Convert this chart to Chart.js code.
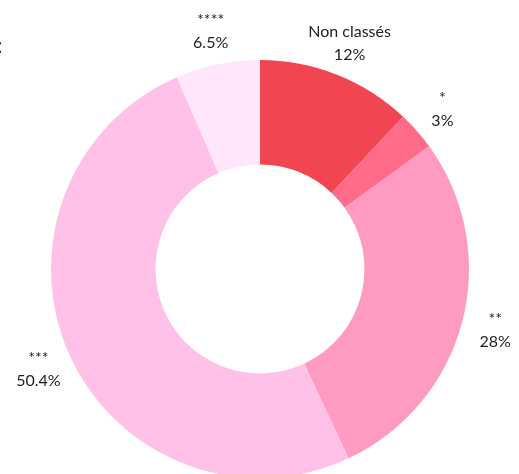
<!DOCTYPE html>
<html lang="fr">

<head>
    <meta charset="UTF-8" />
    <title>Répartition par étoiles</title>
    <script src="https://cdn.jsdelivr.net/npm/chart.js"></script>
    <style>
        html, body { margin: 0; padding: 0; background: #fff; overflow: hidden; }
        .wrap { position: relative; width: 519px; height: 538px; }
        .cut { position: absolute; left: -3px; top: 32px; font: 22px Lato, sans-serif; line-height: 1.2; color: #222; }
    </style>
</head>

<body>
    <div class="wrap">
        <span class="cut">:</span>
        <canvas id="starsChart" width="519" height="538"></canvas>
    </div>

    <script>
        const categories = ['Non classés', '*', '**', '***', '****'];
        const shares = [12, 3, 28, 50.4, 6.5];
        const colors = ['#f24552', '#ff6b88', '#ff9ac0', '#ffc1e7', '#ffe6fa'];

        // draws the name + percentage outside each slice
        const outsideLabels = {
            id: 'outsideLabels',
            afterDatasetsDraw(chart) {
                const ctx = chart.ctx;
                const arcs = chart.getDatasetMeta(0).data;
                ctx.save();
                ctx.fillStyle = '#222';
                ctx.textAlign = 'center';
                ctx.textBaseline = 'middle';
                ctx.font = '16px Lato';
                arcs.forEach((arc, i) => {
                    const mid = (arc.startAngle + arc.endAngle) / 2;
                    const r = arc.outerRadius + 34;
                    const x = arc.x + Math.cos(mid) * r;
                    const y = arc.y + Math.sin(mid) * r;
                    ctx.fillText(categories[i], x, y - 11);
                    ctx.fillText(shares[i] + '%', x, y + 12);
                });
                ctx.restore();
            }
        };

        new Chart(document.getElementById('starsChart'), {
            type: 'doughnut',
            data: {
                labels: categories,
                datasets: [{
                    data: shares,
                    backgroundColor: colors,
                    borderWidth: 0
                }]
            },
            options: {
                responsive: false,
                animation: false,
                cutout: '50%',
                layout: { padding: { left: 51, right: 50, top: 60, bottom: 60 } },
                plugins: {
                    legend: { display: false },
                    tooltip: { enabled: false }
                }
            },
            plugins: [outsideLabels]
        });
    </script>

</body>

</html>
